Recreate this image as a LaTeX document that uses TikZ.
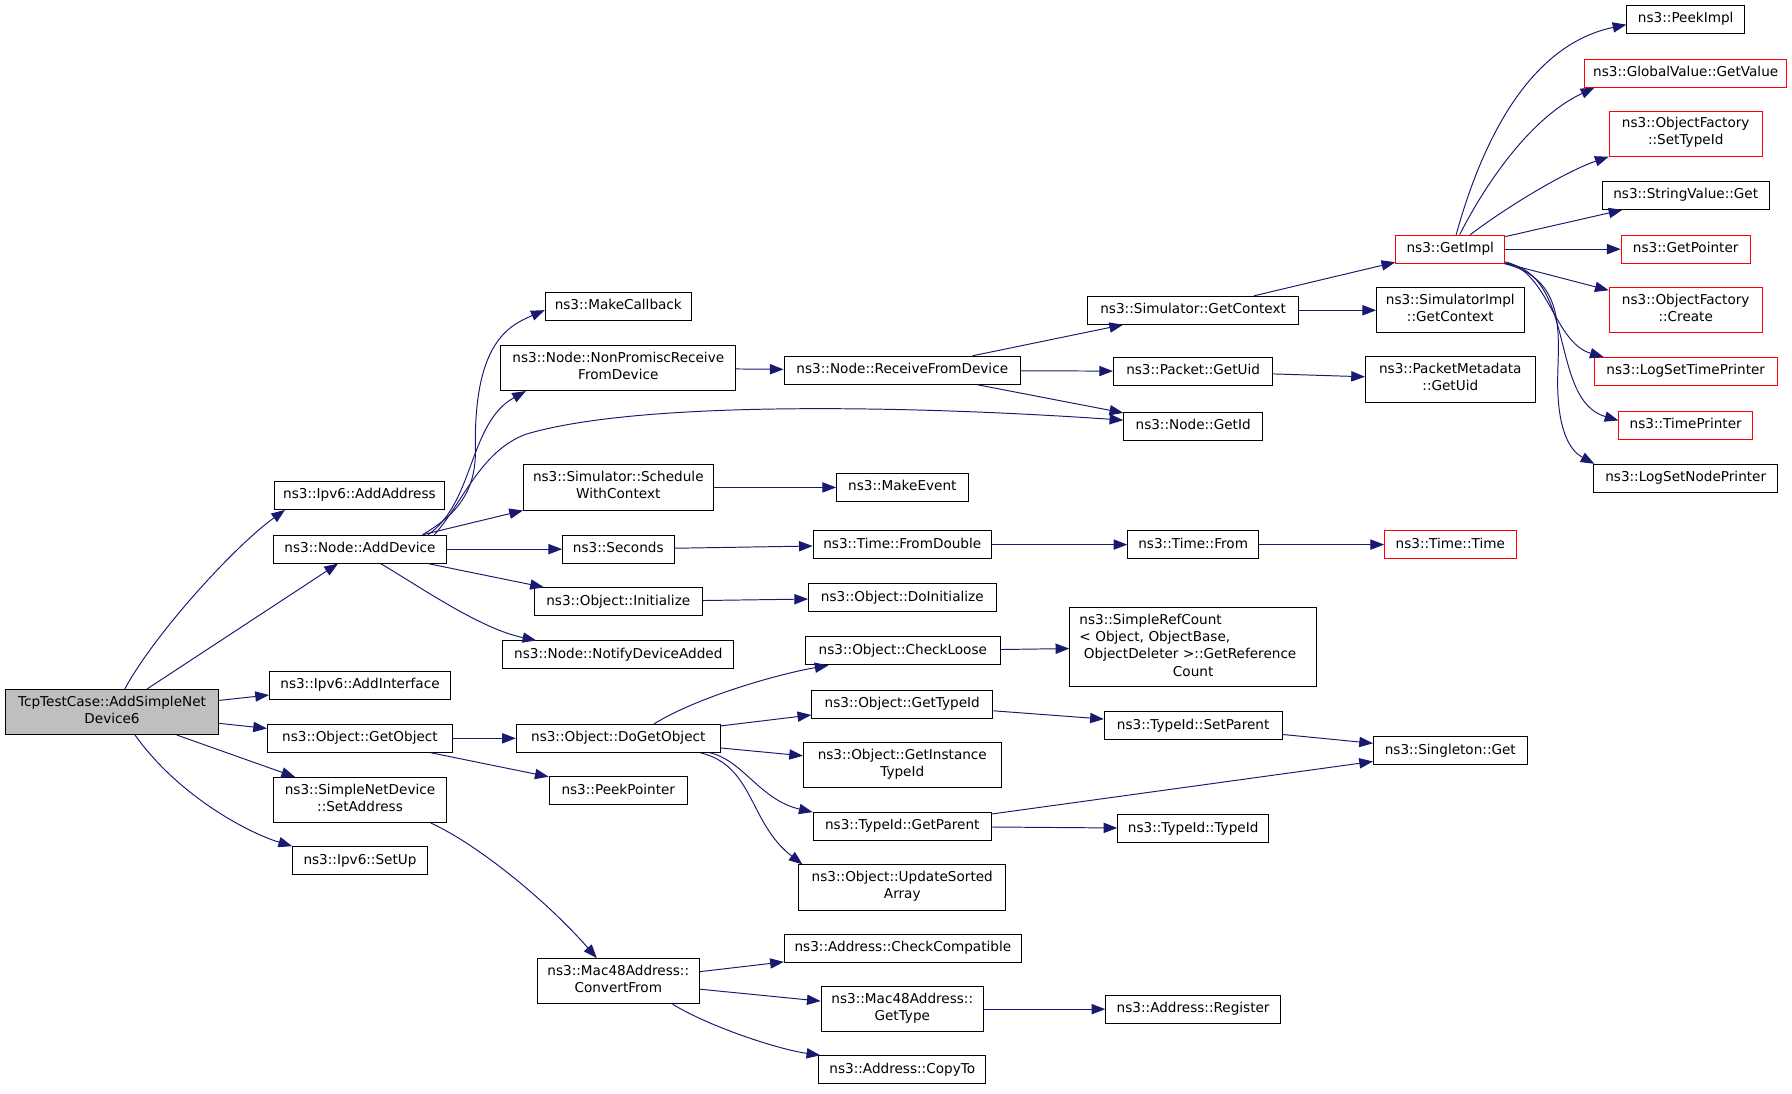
\documentclass[tikz,border=0pt]{standalone}
\usepackage{fontspec}
\setmainfont{DejaVu Sans}
\usetikzlibrary{arrows.meta}
\definecolor{edgeblue}{RGB}{25,25,112}
\definecolor{rootgray}{RGB}{191,191,191}
\begin{document}
\begin{tikzpicture}[x=1pt,y=-1pt,
    fn/.style={draw=black,fill=white,line width=0.8pt,inner xsep=3pt,inner ysep=4.75pt,
      font=\fontsize{11.9}{15}\selectfont,align=center,
      execute at begin node=\strut,execute at end node=\strut},
    tall/.style={minimum height=39.5pt},
    hot/.style={draw=red},
    callarrow/.style={draw=edgeblue,line width=0.85pt,-{Triangle[length=12pt,width=9pt]}}]
    \useasboundingbox (0,0) rectangle (1568,956.5);
    \node[fn,fill=rootgray,minimum width=186pt,tall] (root) at (98,623) {TcpTestCase::AddSimpleNet\\Device6};
    \node[fn,minimum width=149pt] (addaddr) at (314.5,433.5) {ns3::Ipv6::AddAddress};
    \node[fn,minimum width=152pt] (adddev) at (315,480.5) {ns3::Node::AddDevice};
    \node[fn,minimum width=158.5pt] (addif) at (315,599.5) {ns3::Ipv6::AddInterface};
    \node[fn,minimum width=162pt] (getobj) at (315,646) {ns3::Object::GetObject};
    \node[fn,minimum width=152pt,tall] (setaddr) at (315,700) {ns3::SimpleNetDevice\\::SetAddress};
    \node[fn,minimum width=118pt] (setup) at (315,753) {ns3::Ipv6::SetUp};
    \node[fn,minimum width=128pt] (mkcb) at (541,268) {ns3::MakeCallback};
    \node[fn,minimum width=205.5pt,tall] (nonprom) at (541,322) {ns3::Node::NonPromiscReceive\\FromDevice};
    \node[fn,minimum width=166pt,tall] (sched) at (541,426.5) {ns3::Simulator::Schedule\\WithContext};
    \node[fn,minimum width=97.5pt] (seconds) at (541,480.5) {ns3::Seconds};
    \node[fn,minimum width=147.5pt] (init) at (541,526.5) {ns3::Object::Initialize};
    \node[fn,minimum width=202pt] (notify) at (541,573) {ns3::Node::NotifyDeviceAdded};
    \node[fn,minimum width=178.5pt] (dogetobj) at (541,646) {ns3::Object::DoGetObject};
    \node[fn,minimum width=121pt] (peekptr) at (541,692) {ns3::PeekPointer};
    \node[fn,minimum width=142pt,tall] (convfrom) at (541,858.5) {ns3::Mac48Address::\\ConvertFrom};
    \node[fn,minimum width=207pt] (recv) at (789.5,324) {ns3::Node::ReceiveFromDevice};
    \node[fn,minimum width=115pt] (mkevent) at (789.5,426.5) {ns3::MakeEvent};
    \node[fn,minimum width=156pt] (fromdbl) at (789.5,476.5) {ns3::Time::FromDouble};
    \node[fn,minimum width=164pt] (doinit) at (789.5,523) {ns3::Object::DoInitialize};
    \node[fn,minimum width=170pt] (chkloose) at (790,569.5) {ns3::Object::CheckLoose};
    \node[fn,minimum width=158.5pt] (gettypeid) at (789.5,616) {ns3::Object::GetTypeId};
    \node[fn,minimum width=173pt,tall] (getinst) at (789.5,669.5) {ns3::Object::GetInstance\\TypeId};
    \node[fn,minimum width=156pt] (getparent) at (789.5,723) {ns3::TypeId::GetParent};
    \node[fn,minimum width=181pt,tall] (updsort) at (789.5,776.5) {ns3::Object::UpdateSorted\\Array};
    \node[fn,minimum width=207.5pt] (chkcompat) at (790,829.5) {ns3::Address::CheckCompatible};
    \node[fn,minimum width=142pt,tall] (gettype) at (789.5,883) {ns3::Mac48Address::\\GetType};
    \node[fn,minimum width=146pt] (copyto) at (789.5,936) {ns3::Address::CopyTo};
    \node[fn,minimum width=184.5pt] (simgetctx) at (1044,271.5) {ns3::Simulator::GetContext};
    \node[fn,minimum width=139.5pt] (pktgetuid) at (1044,325) {ns3::Packet::GetUid};
    \node[fn,minimum width=121.5pt] (getid) at (1044,373) {ns3::Node::GetId};
    \node[fn,minimum width=114.5pt] (timefrom) at (1044,476.5) {ns3::Time::From};
    \node[fn,text width=199pt,inner xsep=8.5pt,align=left] (refcount) at (1044,566) {ns3::SimpleRefCount\\< Object, ObjectBase,\\\ ObjectDeleter >::GetReference\\\hfill Count\hfill\null};
    \node[fn,minimum width=155.5pt] (setparent) at (1044,635) {ns3::TypeId::SetParent};
    \node[fn,minimum width=132pt] (typeid) at (1044,725) {ns3::TypeId::TypeId};
    \node[fn,minimum width=153pt] (register) at (1044,883) {ns3::Address::Register};
    \node[fn,minimum width=129pt,tall] (simimpl) at (1269,271.5) {ns3::SimulatorImpl\\::GetContext};
    \node[fn,minimum width=148.5pt,tall] (pktmeta) at (1269,332) {ns3::PacketMetadata\\::GetUid};
    \node[fn,minimum width=134.5pt] (singleton) at (1269,657) {ns3::Singleton::Get};
    \node[fn,hot,minimum width=95.5pt] (getimpl) at (1269,218) {ns3::GetImpl};
    \node[fn,hot,minimum width=115pt] (timetime) at (1269,476.5) {ns3::Time::Time};
    \node[fn,minimum width=103pt] (peekimpl) at (1475,17) {ns3::PeekImpl};
    \node[fn,hot,minimum width=177pt] (globalval) at (1475,64) {ns3::GlobalValue::GetValue};
    \node[fn,hot,minimum width=134pt,tall] (settypeid) at (1475,117) {ns3::ObjectFactory\\::SetTypeId};
    \node[fn,minimum width=146pt] (strval) at (1475,171) {ns3::StringValue::Get};
    \node[fn,hot,minimum width=113pt] (getptr) at (1475,218) {ns3::GetPointer};
    \node[fn,hot,minimum width=134pt,tall] (create) at (1475,271.5) {ns3::ObjectFactory\\::Create};
    \node[fn,hot,minimum width=160pt] (logtime) at (1475,325) {ns3::LogSetTimePrinter};
    \node[fn,hot,minimum width=117pt] (timeprinter) at (1475,372) {ns3::TimePrinter};
    \node[fn,minimum width=161pt] (lognode) at (1475,418.5) {ns3::LogSetNodePrinter};
    \draw[callarrow] (root.61) .. controls (135,555) and (205,478) .. (addaddr.191);
    \draw[callarrow] (root) -- (adddev);
    \draw[callarrow] (root) -- (addif);
    \draw[callarrow] (root) -- (getobj);
    \draw[callarrow] (root) -- (setaddr);
    \draw[callarrow] (root.315) .. controls (155,695) and (215,728) .. (setup.168);
    \draw[callarrow] (adddev.13) .. controls (400,450) and (416,430) .. (416,395) .. controls (414,300) and (445,285) .. (mkcb.183);
    \draw[callarrow] (adddev.12) .. controls (415,440) and (410,370) .. (nonprom.194);
    \draw[callarrow] (adddev.11) .. controls (405,440) and (420,395) .. (460,380) .. controls (560,350) and (800,355) .. (getid.175);
    \draw[callarrow] (adddev.13) -- (sched.south west);
    \draw[callarrow] (adddev) -- (seconds);
    \draw[callarrow] (adddev.348) -- (init.169);
    \draw[callarrow] (adddev.325) .. controls (370,515) and (420,550) .. (notify.170);
    \draw[callarrow] (nonprom) -- (recv);
    \draw[callarrow] (recv) -- (simgetctx);
    \draw[callarrow] (recv) -- (pktgetuid);
    \draw[callarrow] (recv) -- (getid);
    \draw[callarrow] (sched) -- (mkevent);
    \draw[callarrow] (seconds) -- (fromdbl);
    \draw[callarrow] (init) -- (doinit);
    \draw[callarrow] (fromdbl) -- (timefrom);
    \draw[callarrow] (timefrom) -- (timetime);
    \draw[callarrow] (getobj) -- (dogetobj);
    \draw[callarrow] (getobj) -- (peekptr);
    \draw[callarrow] (dogetobj.22) .. controls (610,610) and (680,590) .. (chkloose.191);
    \draw[callarrow] (dogetobj) -- (gettypeid);
    \draw[callarrow] (dogetobj) -- (getinst);
    \draw[callarrow] (dogetobj.351) .. controls (650,665) and (665,700) .. (getparent.171);
    \draw[callarrow] (dogetobj.350) .. controls (660,670) and (655,720) .. (updsort.167);
    \draw[callarrow] (chkloose) -- (refcount);
    \draw[callarrow] (gettypeid) -- (setparent);
    \draw[callarrow] (setparent) -- (singleton);
    \draw[callarrow] (getparent) -- (singleton);
    \draw[callarrow] (getparent) -- (typeid);
    \draw[callarrow] (setaddr.342) .. controls (420,740) and (480,790) .. (convfrom.133);
    \draw[callarrow] (convfrom) -- (chkcompat);
    \draw[callarrow] (convfrom) -- (gettype);
    \draw[callarrow] (convfrom.337) .. controls (620,898) and (680,918) .. (copyto.170);
    \draw[callarrow] (gettype) -- (register);
    \draw[callarrow] (simgetctx) -- (getimpl);
    \draw[callarrow] (simgetctx) -- (simimpl);
    \draw[callarrow] (pktgetuid) -- (pktmeta);
    \draw[callarrow] (getimpl.68) .. controls (1295,130) and (1335,40) .. (peekimpl.185);
    \draw[callarrow] (getimpl.57) .. controls (1295,170) and (1335,105) .. (globalval.189);
    \draw[callarrow] (getimpl.36) .. controls (1320,180) and (1370,150) .. (settypeid.south west);
    \draw[callarrow] (getimpl) -- (strval);
    \draw[callarrow] (getimpl) -- (getptr);
    \draw[callarrow] (getimpl) -- (create);
    \draw[callarrow] (getimpl.347) .. controls (1355,238) and (1360,300) .. (logtime.170);
    \draw[callarrow] (getimpl.346) .. controls (1380,240) and (1355,350) .. (timeprinter.176);
    \draw[callarrow] (getimpl.345) .. controls (1375,245) and (1362,300) .. (1363,340) .. controls (1364,380) and (1375,395) .. (lognode.171);
\end{tikzpicture}
\end{document}
